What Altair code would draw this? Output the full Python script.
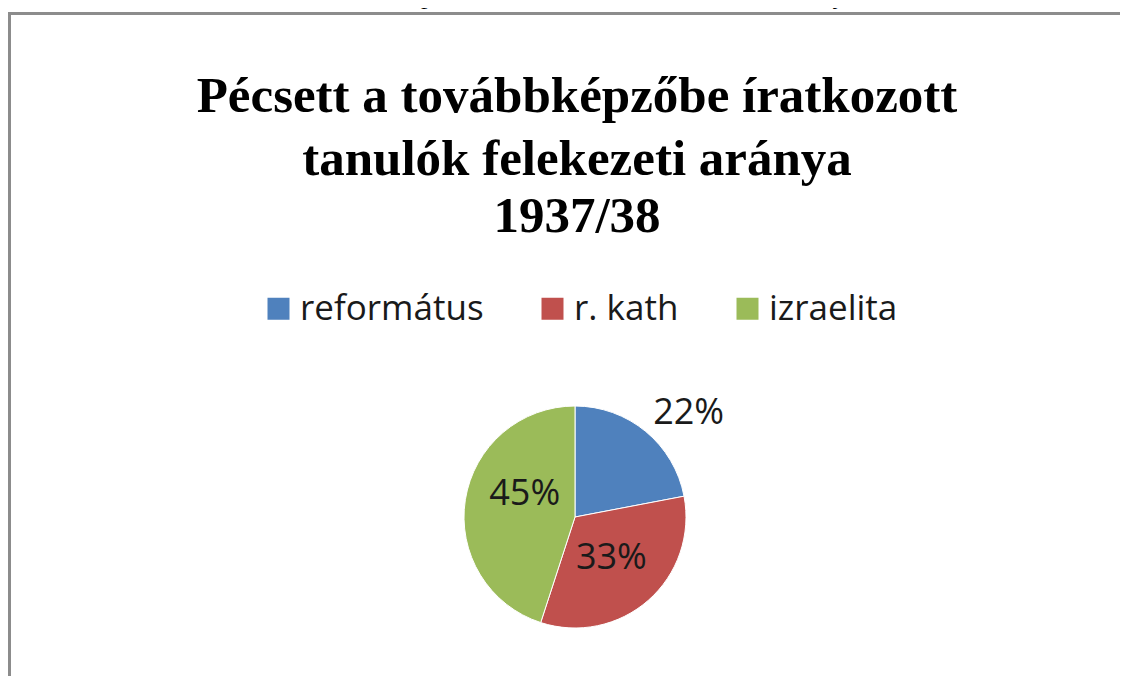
import altair as alt
import pandas as pd

categories = ["református", "r. kath", "izraelita"]
values = [22, 33, 45]
labels = ["22%", "33%", "45%"]
colors = ["#4F81BD", "#C0504D", "#9BBB59"]

title_lines = ["Pécsett a továbbképzőbe íratkozott", "tanulók felekezeti aránya", "1937/38"]
caption = "7. ábra: Pécsett a továbbképzőbe íratkozott tanulók felekezeti aránya 1937/38-ban"

df = pd.DataFrame({
    "cat": categories,
    "value": values,
    "label": labels,
    "idx": list(range(len(categories))),
})

CX, CY = 567, 509

base = alt.Chart(df).encode(
    theta=alt.Theta("value:Q", stack=True),
    order=alt.Order("idx:Q"),
    x=alt.value(CX),
    y=alt.value(CY),
)

pie = base.mark_arc(outerRadius=111, stroke="white", strokeWidth=1).encode(
    color=alt.Color(
        "cat:N",
        scale=alt.Scale(domain=categories, range=colors),
        sort=categories,
        legend=alt.Legend(
            title=None,
            orient="none",
            direction="horizontal",
            legendX=253,
            legendY=283,
            symbolType="square",
            symbolSize=484,
            symbolStrokeWidth=0,
            labelFont="Open Sans",
            labelFontSize=35,
            labelColor="#1a1a1a",
            labelOffset=4,
            labelLimit=1000,
            columnPadding=51,
            padding=0,
        ),
    )
)

def label_layer(cat, radius, dx=0, dy=0):
    return base.mark_text(
        radius=radius, dx=dx, dy=dy, font="Open Sans", fontSize=36,
        color="#1a1a1a", align="center", baseline="middle"
    ).encode(
        text=alt.condition(alt.datum.cat == cat, "label:N", alt.value(""))
    )

lab1 = label_layer("református", 150, dx=18, dy=12)
lab2 = label_layer("r. kath", 55, dx=0, dy=0)
lab3 = label_layer("izraelita", 55, dx=4, dy=-14)

one = pd.DataFrame({"k": [0]})

frame = alt.Chart(one).mark_rect(fill=None, stroke="#8c8c8c", strokeWidth=3).encode(
    x=alt.value(1.5), x2=alt.value(1400), y=alt.value(5.5), y2=alt.value(1000)
)

title_y = [104, 167, 224]
title_layers = [
    alt.Chart(one).mark_text(
        font="Liberation Serif", fontSize=51, fontWeight="bold", color="black",
        align="center", baseline="alphabetic"
    ).encode(x=alt.value(569), y=alt.value(ty), text=alt.value(t))
    for t, ty in zip(title_lines, title_y)
]

cap = alt.Chart(one).mark_text(
    font="Liberation Serif", fontSize=26, color="black", align="left",
    baseline="alphabetic"
).encode(x=alt.value(135), y=alt.value(-4), text=alt.value(caption))

chart = alt.layer(
    frame, cap, *title_layers, pie, lab1, lab2, lab3
).properties(
    width=1112, height=668, padding=0,
    autosize=alt.AutoSizeParams(type="none"),
    background="white",
).configure_view(stroke=None)

chart.save("out.html", embed_options={"renderer": "svg", "actions": False})
